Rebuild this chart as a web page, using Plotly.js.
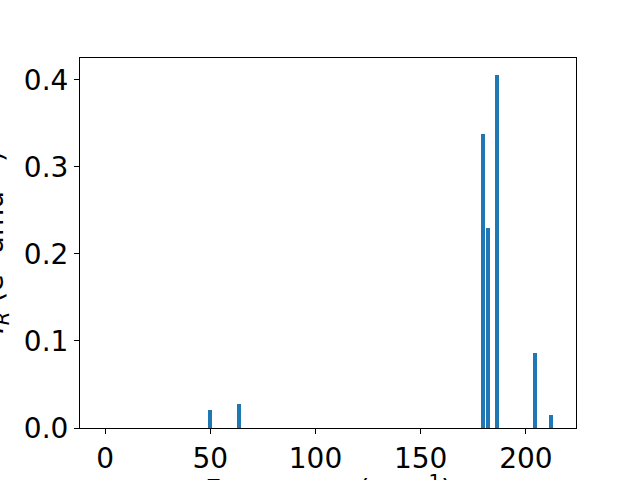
<!DOCTYPE html>
<html>
<head>
<meta charset="utf-8">
<script src="https://cdn.plot.ly/plotly-3.0.1.min.js"></script>
<style>html,body{margin:0;padding:0;background:#fff;}#chart{width:640px;height:480px;}</style>
</head>
<body>
<div id="chart"></div>
<script>
var frequencies = [49.9, 63.7, 179.6, 182.0, 186.2, 204.3, 211.9];
var intensities = [0.0207, 0.0276, 0.338, 0.230, 0.406, 0.086, 0.015];
var xTickValues = [0, 50, 100, 150, 200];
var yTickValues = [0.0, 0.1, 0.2, 0.3, 0.4];
var yTickLabels = ['0.0', '0.1', '0.2', '0.3', '0.4'];
var xTitle = 'Frequency (cm<sup>−1</sup>)';
var yTitle = '<i>I</i><sub><i>R</i></sub> (e<sup>2</sup> amu<sup>−1</sup>)';

var trace = {
  type: 'bar',
  x: frequencies,
  y: intensities,
  width: 1.9,
  marker: {color: '#1f77b4', line: {width: 0}},
  hoverinfo: 'x+y'
};

var axisCommon = {
  showgrid: false,
  zeroline: false,
  showline: true,
  mirror: true,
  linecolor: '#000',
  linewidth: 1,
  ticks: 'outside',
  ticklen: 5,
  tickwidth: 1,
  tickcolor: '#000',
  tickfont: {family: 'DejaVu Sans', size: 28, color: '#000'}
};

var titleFont = {family: 'DejaVu Sans', size: 28, color: '#000'};

var layout = {
  width: 640,
  height: 480,
  margin: {l: 80, r: 64, t: 58, b: 52},
  paper_bgcolor: '#fff',
  plot_bgcolor: '#fff',
  showlegend: false,
  bargap: 0,
  xaxis: Object.assign({}, axisCommon, {
    range: [-11.9, 223.8],
    tickvals: xTickValues
  }),
  yaxis: Object.assign({}, axisCommon, {
    range: [0, 0.425],
    tickvals: yTickValues,
    ticktext: yTickLabels
  }),
  annotations: [
    {
      text: xTitle, xref: 'paper', yref: 'paper', x: 0.5, y: -0.1081,
      xanchor: 'center', yanchor: 'top', showarrow: false, font: titleFont
    },
    {
      text: yTitle, xref: 'paper', yref: 'paper', x: -0.129, y: 0.5,
      xanchor: 'right', yanchor: 'middle', textangle: -90, showarrow: false, font: titleFont
    }
  ]
};

Plotly.newPlot('chart', [trace], layout, {staticPlot: true, displayModeBar: false});
</script>
</body>
</html>
